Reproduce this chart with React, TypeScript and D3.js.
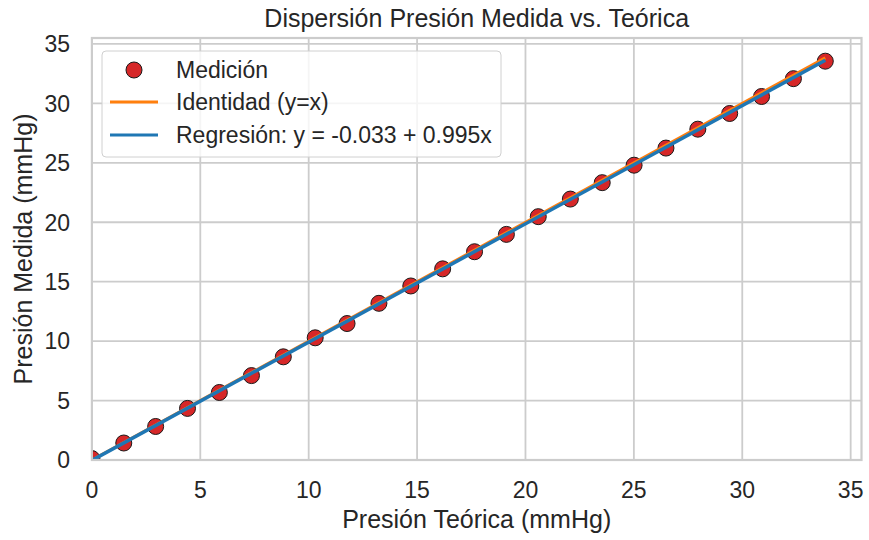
import React from "react";
import * as d3 from "d3";

const presionTeorica = [0, 1.47, 2.94, 4.41, 5.88, 7.36, 8.83, 10.3, 11.77, 13.24, 14.71, 16.18, 17.65, 19.12, 20.59, 22.07, 23.54, 25.01, 26.48, 27.95, 29.42, 30.89, 32.36, 33.83];
const presionMedida = [0.12, 1.43, 2.82, 4.34, 5.68, 7.1, 8.68, 10.28, 11.48, 13.18, 14.64, 16.08, 17.52, 18.98, 20.47, 21.95, 23.33, 24.8, 26.24, 27.83, 29.15, 30.58, 32.08, 33.55];
const intercepto = -0.033;
const pendiente = 0.995;
const xTicks = [0, 5, 10, 15, 20, 25, 30, 35];
const yTicks = [0, 5, 10, 15, 20, 25, 30, 35];
const legendLabels = ["Medición", "Identidad (y=x)", "Regresión: y = -0.033 + 0.995x"];
const titulo = "Dispersión Presión Medida vs. Teórica";
const xLabel = "Presión Teórica (mmHg)";
const yLabel = "Presión Medida (mmHg)";

const W = 869, H = 540;
const L = 91.9, R = 861.5, T = 38, B = 460;
const FONT = "'Liberation Sans', Arial, sans-serif";
const TXT = "#262626";

export default function App() {
  const x = d3.scaleLinear().domain([0, 35.5]).range([L, R]);
  const y = d3.scaleLinear().domain([0, 35.5]).range([B, T]);
  const xMax = d3.max(presionTeorica) as number;
  const line = d3.line<[number, number]>().x(d => x(d[0])).y(d => y(d[1]));
  const ident: [number, number][] = [[0, 0], [xMax, xMax]];
  const reg: [number, number][] = [[0, intercepto], [xMax, intercepto + pendiente * xMax]];

  return (
    <svg width={W} height={H} style={{ position: "absolute", left: 0, top: 0, background: "#fff" }} fontFamily={FONT}>
      <defs>
        <clipPath id="plotclip">
          <rect x={L} y={T} width={R - L} height={B - T} />
        </clipPath>
      </defs>
      <rect x={0} y={0} width={W} height={H} fill="#fff" />
      {/* grid */}
      {xTicks.map(t => (
        <line key={"gx" + t} x1={x(t)} x2={x(t)} y1={T} y2={B} stroke="#cccccc" strokeWidth={1.8} />
      ))}
      {yTicks.map(t => (
        <line key={"gy" + t} x1={L} x2={R} y1={y(t)} y2={y(t)} stroke="#cccccc" strokeWidth={1.8} />
      ))}
      {/* data */}
      <g clipPath="url(#plotclip)">
        {presionTeorica.map((v, i) => (
          <circle key={"p" + i} cx={x(v)} cy={y(presionMedida[i])} r={8} fill="#d62728" stroke="#1a1a1a" strokeWidth={1} />
        ))}
        <path d={line(ident) as string} stroke="#ff7f0e" strokeWidth={3} fill="none" />
        <path d={line(reg) as string} stroke="#1f77b4" strokeWidth={3.5} fill="none" />
      </g>
      {/* spines */}
      <rect x={L} y={T} width={R - L} height={B - T} fill="none" stroke="#cccccc" strokeWidth={2.2} />
      {/* tick labels */}
      {xTicks.map(t => (
        <text key={"tx" + t} x={x(t)} y={498} textAnchor="middle" fontSize={23} fill={TXT}>{t}</text>
      ))}
      {yTicks.map(t => (
        <text key={"ty" + t} x={70} y={y(t)} dy="0.36em" textAnchor="end" fontSize={23} fill={TXT}>{t}</text>
      ))}
      {/* labels */}
      <text x={(L + R) / 2} y={528} textAnchor="middle" fontSize={25} fill={TXT}>{xLabel}</text>
      <text transform={`translate(32,${(T + B) / 2}) rotate(-90)`} textAnchor="middle" fontSize={25} fill={TXT}>{yLabel}</text>
      <text x={(L + R) / 2} y={27} textAnchor="middle" fontSize={25} fill={TXT}>{titulo}</text>
      {/* legend */}
      <rect x={102} y={51} width={399} height={106} rx={4} fill="#fff" fillOpacity={0.8} stroke="#d0d0d0" strokeWidth={1} />
      <circle cx={134} cy={70} r={8} fill="#d62728" stroke="#1a1a1a" strokeWidth={1} />
      <line x1={110} x2={158} y1={102} y2={102} stroke="#ff7f0e" strokeWidth={3} />
      <line x1={110} x2={158} y1={135} y2={135} stroke="#1f77b4" strokeWidth={3} />
      {legendLabels.map((s, i) => (
        <text key={"lg" + i} x={176} y={[70, 102, 135][i]} dy="0.36em" fontSize={23} fill={TXT}>{s}</text>
      ))}
    </svg>
  );
}
